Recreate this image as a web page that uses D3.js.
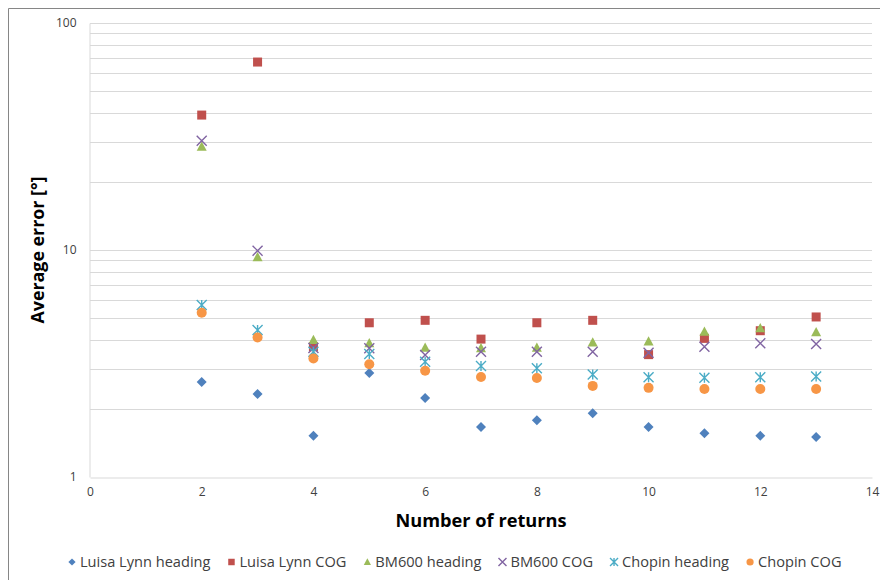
<!DOCTYPE html>
<html>
<head>
<meta charset="utf-8">
<script src="https://cdn.jsdelivr.net/npm/d3@7"></script>
<style>
  body { margin: 0; background: #fff; }
  svg { font-family: "Open Sans", "Noto Sans", sans-serif; }
</style>
</head>
<body>
<div id="chart"></div>
<script>
const returns = [2, 3, 4, 5, 6, 7, 8, 9, 10, 11, 12, 13]

const seriesNames = ["Luisa Lynn heading", "Luisa Lynn COG", "BM600 heading", "BM600 COG", "Chopin heading", "Chopin COG"]

const luisaHeading = [2.62, 2.32, 1.52, 2.87, 2.23, 1.66, 1.78, 1.91, 1.66, 1.56, 1.52, 1.50]
const luisaCog = [39.3, 67.3, 3.75, 4.78, 4.90, 4.05, 4.78, 4.90, 3.46, 4.08, 4.41, 5.07]
const bmHeading = [28.5, 9.3, 4.01, 3.88, 3.71, 3.69, 3.71, 3.91, 3.95, 4.36, 4.52, 4.34]
const bmCog = [30.3, 9.93, 3.70, 3.69, 3.45, 3.56, 3.56, 3.56, 3.53, 3.75, 3.88, 3.85]
const chopinHeading = [5.72, 4.44, 3.56, 3.48, 3.22, 3.08, 3.01, 2.83, 2.75, 2.74, 2.75, 2.77]
const chopinCog = [5.29, 4.12, 3.33, 3.14, 2.94, 2.76, 2.73, 2.52, 2.47, 2.44, 2.44, 2.44]

const xTicks = [0, 2, 4, 6, 8, 10, 12, 14]
const yTicks = [1, 10, 100]

const colors = ["#4F81BD", "#C0504D", "#9BBB59", "#8064A2", "#4BACC6", "#F79646"]
const markers = ["diamond", "square", "triangle", "cross", "asterisk", "circle"]

const seriesValues = [luisaHeading, luisaCog, bmHeading, bmCog, chopinHeading, chopinCog]

const width = 880, height = 580
const margin = { top: 23, right: 8, bottom: 103, left: 90 }

const x = d3.scaleLinear().domain([0, 14]).range([margin.left, width - margin.right])
const y = d3.scaleLog().domain([1, 100]).range([height - margin.bottom, margin.top])

const svg = d3.select("#chart").append("svg")
    .attr("width", width)
    .attr("height", height)

// outer chart frame
svg.append("path")
    .attr("d", `M8.5,${height} V8.5 H${width}`)
    .attr("fill", "none")
    .attr("stroke", "#868686")
    .attr("stroke-width", 1)

// gridlines (major + minor on log scale)
const gridVals = []
for (let d = 1; d < 100; d *= 10) {
    for (let k = 1; k < 10; k++) gridVals.push(d * k)
}
gridVals.push(100)

svg.append("g")
    .selectAll("line")
    .data(gridVals.filter(v => v > 1))
    .join("line")
    .attr("x1", x(0))
    .attr("x2", x(14))
    .attr("y1", d => Math.round(y(d)) + 0.5)
    .attr("y2", d => Math.round(y(d)) + 0.5)
    .attr("stroke", "#D9D9D9")
    .attr("stroke-width", 1)

// x axis
const xAxis = svg.append("g")
    .attr("transform", `translate(0,${Math.round(y(1)) + 0.5})`)
    .call(d3.axisBottom(x).tickValues(xTicks).tickSize(0).tickPadding(10))
xAxis.select(".domain").attr("stroke", "#D9D9D9")
xAxis.selectAll("text").attr("font-family", "Open Sans").attr("font-size", 12).attr("fill", "#404040")

// y axis
const yAxis = svg.append("g")
    .attr("transform", `translate(${Math.round(x(0)) - 0.5},0)`)
    .call(d3.axisLeft(y).tickValues(yTicks).tickFormat(d3.format("d")).tickSize(0).tickPadding(13))
yAxis.select(".domain").attr("stroke", "#D9D9D9")
yAxis.selectAll("text").attr("font-family", "Open Sans").attr("font-size", 12).attr("fill", "#404040")

// axis titles
svg.append("text")
    .attr("x", (x(0) + x(14)) / 2)
    .attr("y", 527)
    .attr("text-anchor", "middle")
    .attr("font-size", 18)
    .attr("font-weight", "bold")
    .attr("textLength", 171)
    .attr("lengthAdjust", "spacingAndGlyphs")
    .attr("fill", "#000")
    .text("Number of returns")

svg.append("text")
    .attr("transform", `translate(44,${(y(1) + y(100)) / 2}) rotate(-90)`)
    .attr("text-anchor", "middle")
    .attr("font-size", 18)
    .attr("font-weight", "bold")
    .attr("textLength", 147)
    .attr("lengthAdjust", "spacingAndGlyphs")
    .attr("fill", "#000")
    .text("Average error [°]")

function drawMarker(sel, type, color, s) {
    if (type === "diamond") {
        sel.append("path").attr("d", `M0,${-s}L${s},0L0,${s}L${-s},0Z`).attr("fill", color)
    } else if (type === "square") {
        sel.append("rect").attr("x", -s * 0.9).attr("y", -s * 0.9).attr("width", s * 1.8).attr("height", s * 1.8).attr("fill", color)
    } else if (type === "triangle") {
        sel.append("path").attr("d", `M0,${-s * 1.05}L${s},${s * 0.8}L${-s},${s * 0.8}Z`).attr("fill", color)
    } else if (type === "circle") {
        sel.append("circle").attr("r", s).attr("fill", color)
    } else if (type === "cross") {
        sel.append("path").attr("d", `M${-s},${-s}L${s},${s}M${-s},${s}L${s},${-s}`)
            .attr("stroke", color).attr("stroke-width", 1.4).attr("fill", "none")
    } else if (type === "asterisk") {
        sel.append("path").attr("d", `M${-s},${-s}L${s},${s}M${-s},${s}L${s},${-s}M0,${-s}L0,${s}`)
            .attr("stroke", color).attr("stroke-width", 1.4).attr("fill", "none")
    }
}

// data points
seriesValues.forEach((vals, i) => {
    const g = svg.append("g").attr("class", "series")
    g.selectAll("g")
        .data(vals.map((v, j) => [returns[j], v]))
        .join("g")
        .attr("transform", d => `translate(${x(d[0])},${y(d[1])})`)
        .each(function () { drawMarker(d3.select(this), markers[i], colors[i], 5) })
})

// legend, laid out left to right from measured text widths
const legend = svg.append("g").attr("transform", "translate(0,562)")
let lx = 72
seriesNames.forEach((name, i) => {
    const item = legend.append("g").attr("transform", `translate(${lx},0)`)
    const m = item.append("g")
    drawMarker(m, markers[i], colors[i], i === 3 || i === 4 ? 4 : 3.6)
    const t = item.append("text")
        .attr("x", 8)
        .attr("y", 5)
        .attr("font-size", 14.6)
        .attr("fill", "#404040")
        .text(name)
    const w = t.node().getComputedTextLength()
    lx += 8 + w + 21
})
</script>
</body>
</html>
